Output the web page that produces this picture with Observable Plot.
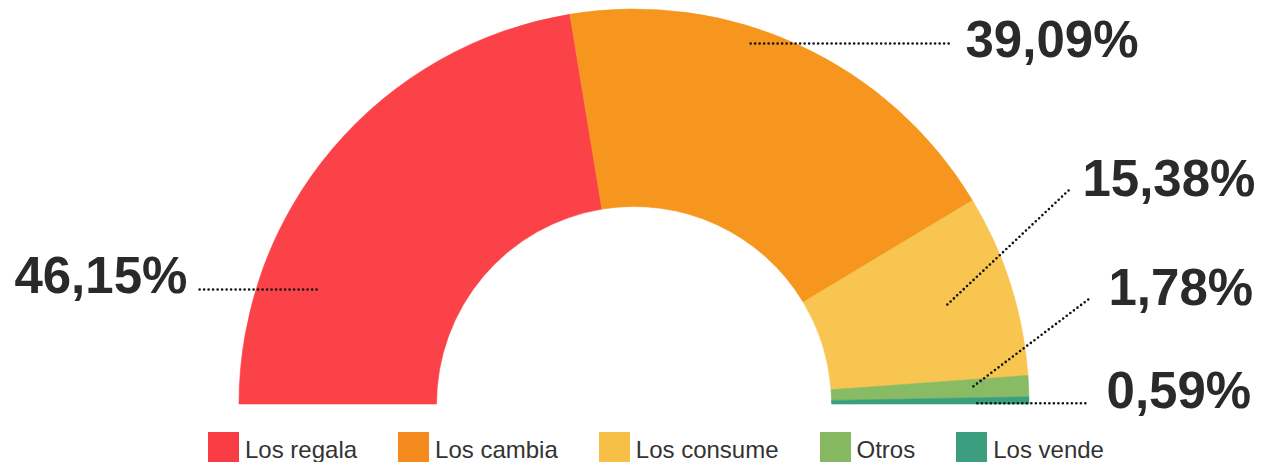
<!DOCTYPE html>
<html>
<head>
<meta charset="utf-8">
<script src="https://cdn.jsdelivr.net/npm/d3@7"></script>
<script src="https://cdn.jsdelivr.net/npm/@observablehq/plot@0.6"></script>
<style>
  html, body { margin: 0; padding: 0; background: #fff; }
  #chart { width: 1271px; }
  .legend { display: flex; justify-content: space-between; width: 896px; margin: 4px 0 0 208px;
            font-family: "Liberation Sans", Arial, Helvetica, sans-serif; font-size: 24px; color: #333; }
  .item { display: flex; align-items: center; }
  .sw { width: 31px; height: 30px; margin-right: 6px; }
  .item span { position: relative; top: 3px; }
</style>
</head>
<body>
<div id="chart"></div>
<script>
// ---- data ----
const categories = ["Los regala", "Los cambia", "Los consume", "Otros", "Los vende"];
const values = [46.15, 39.09, 15.38, 1.78, 0.59];
const colors = ["#fa4248", "#f6961f", "#f7c550", "#89ba64", "#3a9e80"];
const legendColors = ["#f93b43", "#f58b1e", "#f7bf45", "#86b862", "#3b9e7e"];

// annotation geometry (in units of the outer radius, relative to the center)
const leaderX1 = [-1.101, 0.294, 0.792, 0.858, 0.868];
const leaderY1 = [0.291, 0.914, 0.253, 0.046, 0.003];
const leaderX2 = [-0.795, 0.800, 1.099, 1.149, 1.147];
const leaderY2 = [0.291, 0.914, 0.542, 0.266, 0.003];
const labelX = [-1.132, 0.838, 1.134, 1.200, 1.195];
const labelY = [0.282, 0.881, 0.529, 0.251, -0.010];
const labelAnchor = ["end", "start", "start", "start", "start"];

const W = 1271, H = 428, CX = 634, CY = 404, R = 395, innerRatio = 0.5;

const rows = categories.map((c, i) => ({category: c, value: values[i], color: colors[i]}));
const labels = values.map((v, i) => ({
  text: v.toFixed(2).replace(".", ",") + "%",
  x1: leaderX1[i], y1: leaderY1[i], x2: leaderX2[i], y2: leaderY2[i],
  lx: labelX[i], ly: labelY[i], anchor: labelAnchor[i]
}));

function donut(index, scales) {
  const {x, y} = scales;
  const cx = x(0), cy = y(0), r = x(1) - x(0);
  const arcs = d3.pie().value(d => d.value).sort(null)
    .startAngle(-Math.PI / 2).endAngle(Math.PI / 2)(rows);
  const arc = d3.arc().innerRadius(r * innerRatio).outerRadius(r);
  const g = d3.create("svg:g").attr("transform", `translate(${cx},${cy})`);
  g.selectAll("path").data(arcs).join("path")
    .attr("d", arc)
    .attr("fill", d => d.data.color)
    .attr("stroke", d => d.data.color)
    .attr("stroke-width", 0.6);
  return g.node();
}

const textStyle = {
  x: "lx", y: "ly", text: "text", lineAnchor: "bottom",
  fontSize: 51, fontWeight: "bold", fill: "#2a2a2a",
  fontFamily: "'Liberation Sans', Arial, Helvetica, sans-serif"
};

const plot = Plot.plot({
  width: W, height: H,
  marginTop: 0, marginRight: 0, marginBottom: 0, marginLeft: 0,
  style: {background: "#fff"},
  x: {type: "linear", domain: [-CX / R, (W - CX) / R], axis: null},
  y: {type: "linear", domain: [-(H - CY) / R, CY / R], axis: null},
  marks: [
    donut,
    Plot.link(labels, {
      x1: "x1", y1: "y1", x2: "x2", y2: "y2",
      stroke: "#111", strokeWidth: 2.6, strokeDasharray: "0 4.5", strokeLinecap: "round"
    }),
    Plot.text(labels.filter(d => d.anchor === "end"), {...textStyle, textAnchor: "end"}),
    Plot.text(labels.filter(d => d.anchor === "start"), {...textStyle, textAnchor: "start"})
  ]
});

const chart = document.getElementById("chart");
chart.appendChild(plot);

const legend = document.createElement("div");
legend.className = "legend";
categories.forEach((c, i) => {
  const item = document.createElement("div");
  item.className = "item";
  const sw = document.createElement("div");
  sw.className = "sw";
  sw.style.background = legendColors[i];
  const t = document.createElement("span");
  t.textContent = c;
  item.appendChild(sw);
  item.appendChild(t);
  legend.appendChild(item);
});
chart.appendChild(legend);
</script>
</body>
</html>
